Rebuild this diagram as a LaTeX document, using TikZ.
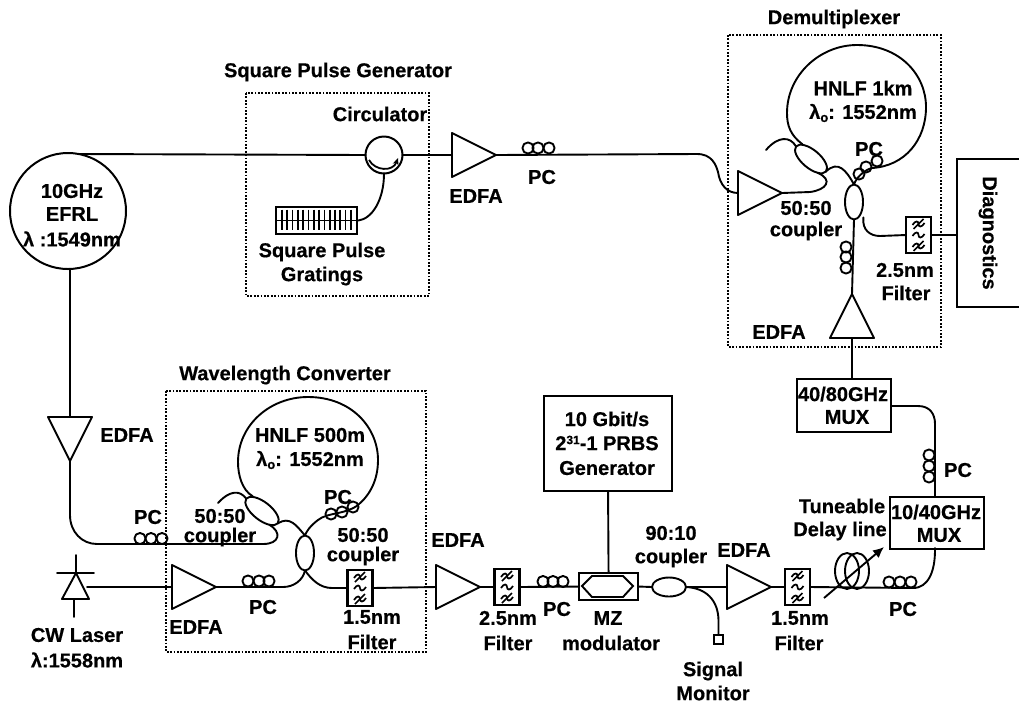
\documentclass[tikz,border=0pt]{standalone}
\usepackage{fontspec}
\setmainfont{Liberation Sans}[BoldFont={Liberation Sans Bold},BoldFeatures={FakeBold=0.5}]
\usetikzlibrary{shapes.geometric,arrows.meta}
\tikzset{
  wire/.style={line width=1.9pt,line cap=round,line join=round},
  group box/.style={draw,line width=1.9pt,dash pattern=on 1.8pt off 1.6pt,inner sep=0pt,fill=none},
  block/.style={draw,line width=2.1pt,inner sep=0pt,anchor=north west},
  lab/.style={font=\bfseries\fontsize{20}{20}\selectfont,inner sep=0pt,align=center},
  cpl/.style={draw,ellipse,line width=1.9pt,inner sep=0pt,outer sep=0pt},
  flt/.style={draw,line width=2.1pt,inner sep=0pt,outer sep=0pt,minimum width=25pt,minimum height=36pt},
}
\newcommand{\amplifier}[4]{%
  \begin{scope}[shift={(#2,#3)},rotate=#4]
    \draw[wire] (0,-22)--(0,22)--(44,0)--cycle;
    \coordinate (#1-in) at (0,0);
    \coordinate (#1-out) at (44,0);
  \end{scope}}
\newcommand{\coilset}[6]{%
  \foreach \cx/\cy in {#1/#2,#3/#4,#5/#6}{\draw[wire] (\cx,\cy) circle (5.6);}}
\newcommand{\filterbox}[3]{%
  \node[flt] (#1) at (#2,#3) {};
  \begin{scope}[shift={(#2,#3)}]
    \foreach \dy in {-11,0,11}{
      \draw[line width=1.7pt] (-6,\dy+1) .. controls (-3,\dy-4) and (0,\dy-3) .. (0,\dy)
        .. controls (0,\dy+3) and (3,\dy+4) .. (6,\dy-1);}
    \draw[line width=1.7pt] (-5,-6)--(5,-16) (-5,16)--(5,6);
  \end{scope}}
\newcommand{\lamo}{\textlambda\raisebox{-3pt}{\fontsize{13}{13}\selectfont o}}
\DeclareTextSymbol{\textlambda}{TU}{"03BB}
\begin{document}
\begin{tikzpicture}[x=1pt,y=-1pt]
\useasboundingbox (0,0) rectangle (1019,705);
\fill[white] (0,0) rectangle (1019,705);

% --- group boxes
\draw[group box] (246,93) rectangle (429,296);
\draw[group box] (166,391) rectangle (426,652);
\draw[group box] (728,35) rectangle (941,347);
\node[lab] at (338,72) {Square Pulse Generator};
\node[lab] at (285,375) {Wavelength Converter};
\node[lab] at (834,19) {Demultiplexer};

% --- source
\node[draw,circle,line width=2pt,minimum size=116pt,inner sep=0pt,outer sep=0pt] (efrl) at (68,211) {};
\node[lab] at (72,191) {10GHz};
\node[lab] at (72,214) {EFRL};
\node[lab] at (72,239) {\textlambda\ :1549nm};
\coordinate (efrltop) at (78,154);
\coordinate (efrlbot) at (70,269);

% --- square pulse generator
\node[draw,circle,line width=2pt,minimum size=37pt,inner sep=0pt,outer sep=0pt] (circ) at (384,155) {};
\draw[line width=1.8pt,-{Stealth[length=7pt,width=6pt]}] (369,160) .. controls (375,171) and (393,172) .. (398,158);
\node[lab] at (380,114) {Circulator};
\node[block,minimum width=81pt,minimum height=27pt] (grating) at (275,206) {};
\draw[line width=1.8pt] (grating.west) -- (grating.east);
\foreach \gx in {282,287.3,...,352}{\draw[line width=1.7pt] (\gx,209.5)--(\gx,229.5);}
\node[lab] at (322,252) {Square Pulse};
\node[lab] at (322,276) {Gratings};
\draw[wire] (grating.east) .. controls (372,219) and (384,200) .. (circ.south);
\draw[wire] (efrltop) -- (circ.west);

\amplifier{ampa}{452}{155}{0}
\draw[wire] (circ.east) -- (ampa-in);
\node[lab] at (476,196) {EDFA};
\coilset{528}{148}{538}{148}{549}{148}
\node[lab] at (542,177) {PC};
\coordinate (demuxin) at (697,154);

% --- demultiplexer
\amplifier{ampb}{738}{193}{0}
\draw[wire] (ampa-out) -- (demuxin) .. controls (712,154) and (716,165) .. (718,172)
   .. controls (720,185) and (727,193) .. (ampb-in);
\node[cpl,minimum width=39pt,minimum height=18pt,rotate=-40] (dc1) at (811,159) {};
\node[cpl,minimum width=18pt,minimum height=35pt] (dc2) at (854,202) {};
\draw[wire] (dc1.west) .. controls (790,136) and (778,136) .. (766,150);
\draw[wire] (ampb-out) -- (810,192) .. controls (826,190) and (834,180) .. (dc1.south east);
\draw[wire] (dc1.east) .. controls (838,160) and (846,170) .. (dc2.north);
\draw[wire] (dc1.north west) ++(-2,-1) coordinate (l1)
   .. controls (790,135) and (787,125) .. (787,113)
   .. controls (787,75) and (820,45) .. (857,45)
   .. controls (900,45) and (926,75) .. (926,107)
   .. controls (926,140) and (905,166) .. (872,168)
   .. controls (864,170) and (856,178) .. (dc2.north);
\coilset{859}{174}{866}{167}{877}{161}
\node[lab] at (863,88) {HNLF 1km};
\node[lab] at (863,113) {\lamo: 1552nm};
\node[lab] at (869,149) {PC};
\node[lab] at (806,208) {50:50};
\node[lab] at (806,231) {coupler};
\amplifier{ampc}{852}{338}{90}
\draw[wire] (dc2.south) -- (ampc-out);
\coilset{846}{247}{846}{257}{846}{268}
\node[lab] at (779,332) {EDFA};
\filterbox{fd}{918.5}{235}
\draw[wire] (dc2.south east) ++(3,3) .. controls (862,230) and (870,236) .. (880,236) -- (fd.west);
\node[lab] at (905,270) {2.5nm};
\node[lab] at (906,293) {Filter};
\draw[line width=2.1pt] (1019,159) -- (957,159) -- (957,307) -- (1019,307);
\coordinate (diag) at (957,235);
\draw[wire] (fd.east) -- (diag);
\node[lab,rotate=-90] at (988,233) {Diagnostics};

% --- EDFA towards converter
\amplifier{ampd}{70}{417}{-90}
\draw[wire] (efrlbot) -- (ampd-in);
\node[lab] at (127,435) {EDFA};
\coilset{140}{538.5}{151}{538.5}{162}{538.5}
\node[lab] at (148,517) {PC};

% --- wavelength converter
\node[cpl,minimum width=40pt,minimum height=18pt,rotate=-38] (wc1) at (262,511) {};
\node[cpl,minimum width=18pt,minimum height=35pt] (wc2) at (305,553) {};
\draw[wire] (ampd-out) -- (70,515) .. controls (70,532) and (82,544) .. (97,544)
   -- (263,544) .. controls (280,544) and (282,532) .. (wc1.south east);
\draw[wire] (wc1.west) .. controls (240,490) and (230,490) .. (218,503);
\draw[wire] (wc1.east) .. controls (290,516) and (296,525) .. (wc2.north);
\draw[wire] (wc1.north west) ++(-2,-1)
   .. controls (242,490) and (238,475) .. (238,462)
   .. controls (238,425) and (270,397) .. (308,397)
   .. controls (352,397) and (378,428) .. (378,460)
   .. controls (378,480) and (370,495) .. (358,505)
   .. controls (345,515) and (328,512) .. (318,520)
   .. controls (310,526) and (306,532) .. (wc2.north);
\coilset{331}{514}{342}{512}{353}{507}
\node[lab] at (310,435) {HNLF 500m};
\node[lab] at (310,460) {\lamo: 1552nm};
\node[lab] at (338,497) {PC};
\node[lab] at (220,516) {50:50};
\node[lab] at (220,537) {coupler};
\node[lab] at (363,535) {50:50};
\node[lab] at (363,556) {coupler};

% --- CW laser
\coordinate (ld) at (87,587);
\draw[wire] (76,555)--(76,573) (57,573)--(94,573) (76,573)--(62,599)--(89,599)--cycle (74,599)--(74,617);
\node[lab] at (77,635) {CW Laser};
\node[lab] at (77,660) {\textlambda:1558nm};
\amplifier{ampe}{172}{587}{0}
\draw[wire] (ld) -- (ampe-in);
\node[lab] at (196,627) {EDFA};
\coilset{248}{581}{259}{581}{269}{581}
\node[lab] at (263,607) {PC};
\draw[wire] (ampe-out) -- (283,587) .. controls (294,587) and (303,580) .. (wc2.south);
\filterbox{fa}{360}{588}
\draw[wire] (wc2.south) .. controls (312,580) and (320,588) .. (332,588) -- (fa.west);
\node[lab] at (372,617) {1.5nm};
\node[lab] at (372,642) {Filter};

% --- modulator branch
\amplifier{ampf}{436}{587}{0}
\draw[wire] (fa.east) -- (ampf-in);
\node[lab] at (458,540) {EDFA};
\filterbox{fb}{507}{587}
\draw[wire] (ampf-out) -- (fb.west);
\node[lab] at (508,618) {2.5nm};
\node[lab] at (508,643) {Filter};
\coilset{543}{581.5}{553}{581.5}{563}{581.5}
\node[lab] at (557,609) {PC};
\node[block,minimum width=59pt,minimum height=27pt] (mz) at (578,572) {};
\draw[line width=1.9pt] (582,586)--(592,576)--(623,576)--(633,586)--(623,597)--(592,597)--cycle;
\draw[wire] (fb.east) -- (mz.west);
\node[lab] at (608,618) {MZ};
\node[lab] at (611,643) {modulator};
\node[block,minimum width=128pt,minimum height=95pt] (prbs) at (543,395) {};
\node[lab] at (607,419) {10 Gbit/s};
\node[lab] at (607,443) {2\raisebox{6pt}{\fontsize{12}{12}\selectfont 31}-1 PRBS};
\node[lab] at (607,468) {Generator};
\draw[wire] (prbs.south) -- (mz.north);

\node[cpl,minimum width=34pt,minimum height=19pt] (tap) at (669,587) {};
\draw[wire] (mz.east) -- (tap.west);
\node[lab] at (671,533) {90:10};
\node[lab] at (671,558) {coupler};
\amplifier{ampg}{727}{587}{0}
\draw[wire] (tap.east) -- (ampg-in);
\node[lab] at (744,550) {EDFA};
\node[draw,line width=2pt,minimum size=9pt,inner sep=0pt,outer sep=0pt] (mon) at (718.5,639.5) {};
\draw[wire] (tap.east) .. controls (706,588) and (718,600) .. (718.5,620) -- (mon.north);
\node[lab] at (713,671) {Signal};
\node[lab] at (713,693) {Monitor};

\filterbox{fc}{797.5}{587}
\draw[wire] (ampg-out) -- (fc.west);
\node[lab] at (800,618) {1.5nm};
\node[lab] at (799,643) {Filter};

% --- delay line and MUX
\draw[wire] (847,571) ellipse (12 and 18);
\draw[wire] (857,571) ellipse (12 and 18);
\coordinate (dlS) at (824,598);
\coordinate (dlE) at (884,547);
\draw[line width=1.9pt,-{Latex[length=11pt,width=10pt]}] (dlS) -- (dlE);
\node[lab] at (842,506) {Tuneable};
\node[lab] at (840,531) {Delay line};
\node[block,minimum width=94pt,minimum height=52pt] (mux1) at (889,496) {};
\node[lab] at (936,512) {10/40GHz};
\node[lab] at (939,535) {MUX};
\draw[wire] (fc.east) -- (913,588) .. controls (928,588) and (935,572) .. (935,550) -- (935,548);
\coilset{889}{582}{900}{582}{911}{582}
\node[lab] at (903,609) {PC};
\node[block,minimum width=94pt,minimum height=53pt] (mux2) at (796,378) {};
\node[lab] at (843,394) {40/80GHz};
\node[lab] at (847,417) {MUX};
\draw[wire] (mux2.east |- 0,406) -- (918,406) .. controls (930,406) and (935,414) .. (935,424) -- (935,496);
\coilset{929}{455}{929}{466}{929}{477}
\node[lab] at (958,470) {PC};
\draw[wire] (ampc-in) -- (852,378);
\end{tikzpicture}
\end{document}
